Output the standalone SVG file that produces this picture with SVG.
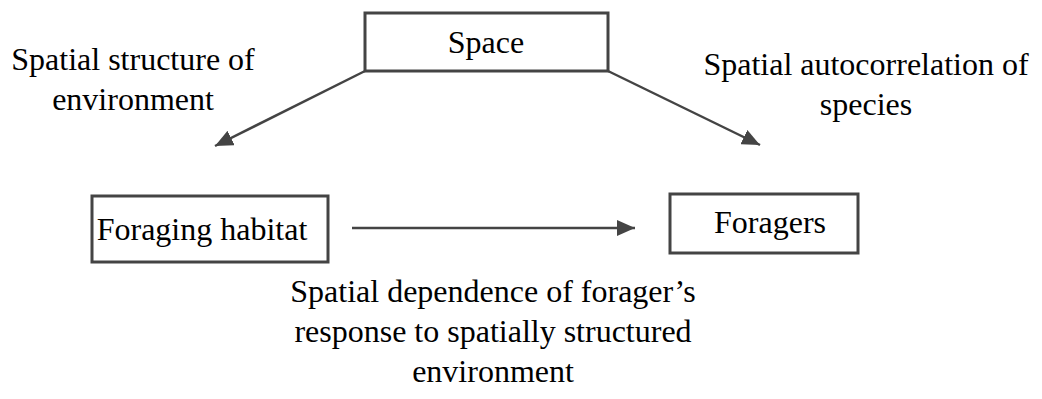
<svg xmlns="http://www.w3.org/2000/svg" width="1042" height="399" viewBox="0 0 1042 399">
<style>
.box{fill:#fff;stroke:#444;stroke-width:3}
.lbl{font-family:"Liberation Serif","Times New Roman",serif;font-size:32px;fill:#000;text-anchor:middle}
.con{stroke:#444;stroke-width:2.5;fill:none;marker-end:url(#ah)}
</style>
<defs>
<marker id="ah" markerUnits="userSpaceOnUse" markerWidth="18" markerHeight="16" viewBox="0 0 18 16" refX="18" refY="8" orient="auto">
<path d="M0,0 L18,8 L0,16 Z" fill="#444"/>
</marker>
</defs>
<rect width="1042" height="399" fill="#fff"/>
<g id="connectors">
<line class="con" x1="365" y1="71" x2="215" y2="146"/>
<line class="con" x1="608" y1="71" x2="760" y2="145"/>
<line class="con" x1="352" y1="228" x2="635" y2="228"/>
</g>
<g id="space">
<rect class="box" x="365" y="13" width="243" height="58"/>
<text class="lbl" x="486" y="53">Space</text>
</g>
<g id="foraging-habitat">
<rect class="box" x="92" y="196" width="236" height="66"/>
<text class="lbl" x="202" y="240">Foraging habitat</text>
</g>
<g id="foragers">
<rect class="box" x="670" y="194" width="188" height="59"/>
<text class="lbl" x="770" y="233">Foragers</text>
</g>
<g id="labels">
<text class="lbl" x="133" y="70">Spatial structure of</text>
<text class="lbl" x="133" y="110">environment</text>
<text class="lbl" x="866" y="75">Spatial autocorrelation of</text>
<text class="lbl" x="866" y="115">species</text>
<text class="lbl" x="493" y="302">Spatial dependence of forager’s</text>
<text class="lbl" x="493" y="342">response to spatially structured</text>
<text class="lbl" x="493" y="382">environment</text>
</g>
</svg>
